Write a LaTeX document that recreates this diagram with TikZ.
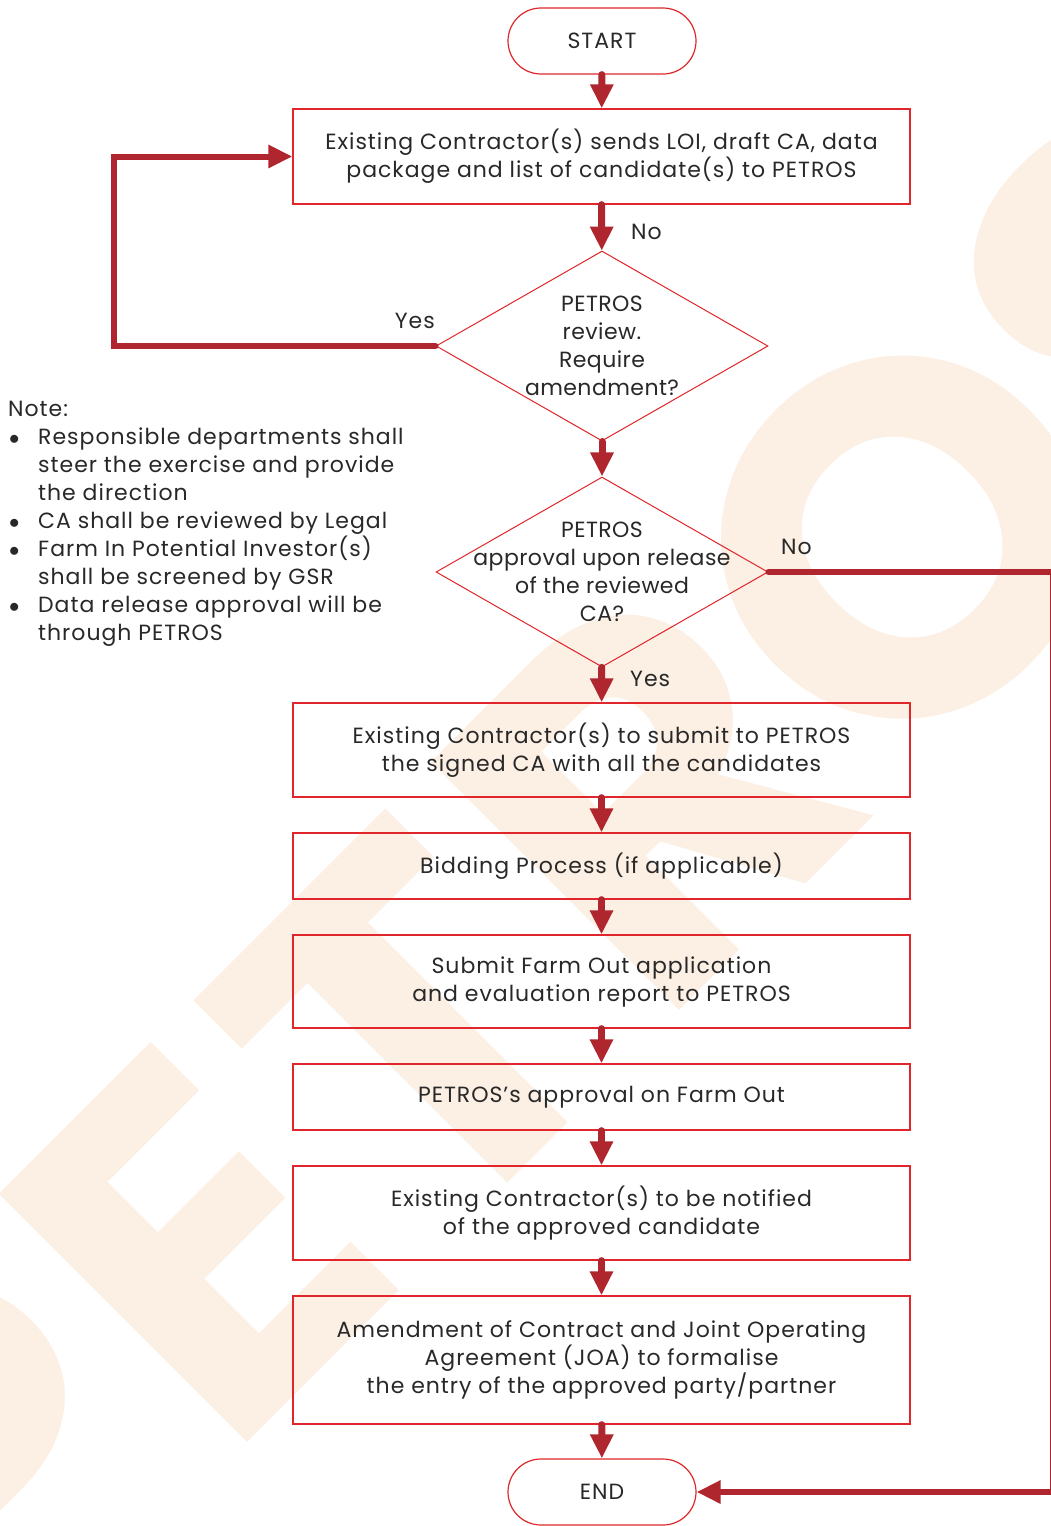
\documentclass[tikz,border=0pt]{standalone}
\usepackage{fontspec}
\setmainfont{Poppins}[LetterSpace=4.5]
\usetikzlibrary{shapes.geometric,arrows.meta}
\definecolor{flowred}{RGB}{176,38,46}
\definecolor{edgered}{RGB}{224,38,42}
\definecolor{wmpeach}{RGB}{252,239,228}
\definecolor{txtgray}{RGB}{40,40,40}
\tikzset{
  proc/.style={draw=edgered, line width=1.3pt, minimum width=617pt, align=center, inner sep=0pt},
  term/.style={draw=edgered, line width=1.2pt, rounded corners=33pt, minimum width=188pt, minimum height=66pt},
  decision/.style={draw=edgered, line width=1pt, diamond, minimum width=332pt, minimum height=190pt, inner sep=0pt},
  dtext/.style={align=center, inner sep=0pt, font=\fontsize{22}{28}\selectfont\addfontfeatures{LetterSpace=2}},
  flow/.style={draw=flowred, line width=7pt, line cap=round, -{Triangle[width=22pt,length=24pt]}},
  loopback/.style={draw=flowred, line width=6pt, line cap=round, -{Triangle[width=22pt,length=24pt]}},
  lbl/.style={inner sep=0pt},
  wm/.style={text=wmpeach, rotate=45, inner sep=0pt, font=\bfseries\fontsize{500}{500}\selectfont},
}
\newcommand{\bul}{\makebox[30pt][l]{\hspace{1pt}$\bullet$}}
\begin{document}
\begin{tikzpicture}[x=1pt,y=-1pt,font=\fontsize{22}{28}\selectfont,text=txtgray]
\useasboundingbox (0,0) rectangle (1051,1526);
% watermark
\node[wm] (wmO) at (903,538) {O};
\node[wm, anchor=base east] (wmPETR) at (wmO.base west) {PETR};
\node[wm, anchor=base west] (wmS) at (wmO.base east) {S};
%%%%
\node[term] (start) at (602,41) {START};
\node[proc, minimum height=95pt] (b1) at (601.5,156.5) {Existing Contractor(s) sends LOI, draft CA, data\\package and list of candidate(s) to PETROS};
\node[decision] (d1) at (602,346) {};
\node[dtext] (d1t) at (d1) {PETROS\\review.\\Require\\amendment?};
\node[decision] (d2) at (602,572) {};
\node[dtext] (d2t) at (d2) {PETROS\\approval upon release\\of the reviewed\\CA?};
\node[proc, minimum height=94pt] (b2) at (601.5,750) {Existing Contractor(s) to submit to PETROS\\the signed CA with all the candidates};
\node[proc, minimum height=66pt] (b3) at (601.5,866) {Bidding Process (if applicable)};
\node[proc, minimum height=93pt] (b4) at (601.5,981.5) {Submit Farm Out application\\and evaluation report to PETROS};
\node[proc, minimum height=66pt] (b5) at (601.5,1097) {PETROS’s approval on Farm Out};
\node[proc, minimum height=94pt] (b6) at (601.5,1213) {Existing Contractor(s) to be notified\\of the approved candidate};
\node[proc, minimum height=128pt] (b7) at (601.5,1360) {Amendment of Contract and Joint Operating\\Agreement (JOA) to formalise\\the entry of the approved party/partner};
\node[term] (end) at (602,1492) {END};
%%%%
\node[lbl, anchor=west] (noA) at (631,232) {No};
\node[lbl, anchor=east] (yesA) at (435,321) {Yes};
\node[lbl, anchor=west] (noB) at (781,547) {No};
\node[lbl, anchor=west] (yesB) at (630,679) {Yes};
\node[align=left, inner sep=0pt, anchor=north west] (note) at (8,401) {Note:\\
\bul Responsible departments shall\\
\hspace*{30pt}steer the exercise and provide\\
\hspace*{30pt}the direction\\
\bul CA shall be reviewed by Legal\\
\bul Farm In Potential Investor(s)\\
\hspace*{30pt}shall be screened by GSR\\
\bul Data release approval will be\\
\hspace*{30pt}through PETROS};
%%%%
\draw[flow] (start) -- (b1);
\draw[flow] (b1) -- (d1);
\draw[flow] (d1) -- (d2);
\draw[flow] (d2) -- (b2);
\foreach \a/\b in {b2/b3,b3/b4,b4/b5,b5/b6,b6/b7,b7/end}
\draw[flow] (\a) -- (\b);
\draw[loopback] (d1.west) -- ++(-322,0) |- (b1.west);
\draw[loopback] (d2.east) -- ++(284,0) |- (end.east);
\end{tikzpicture}
\end{document}
